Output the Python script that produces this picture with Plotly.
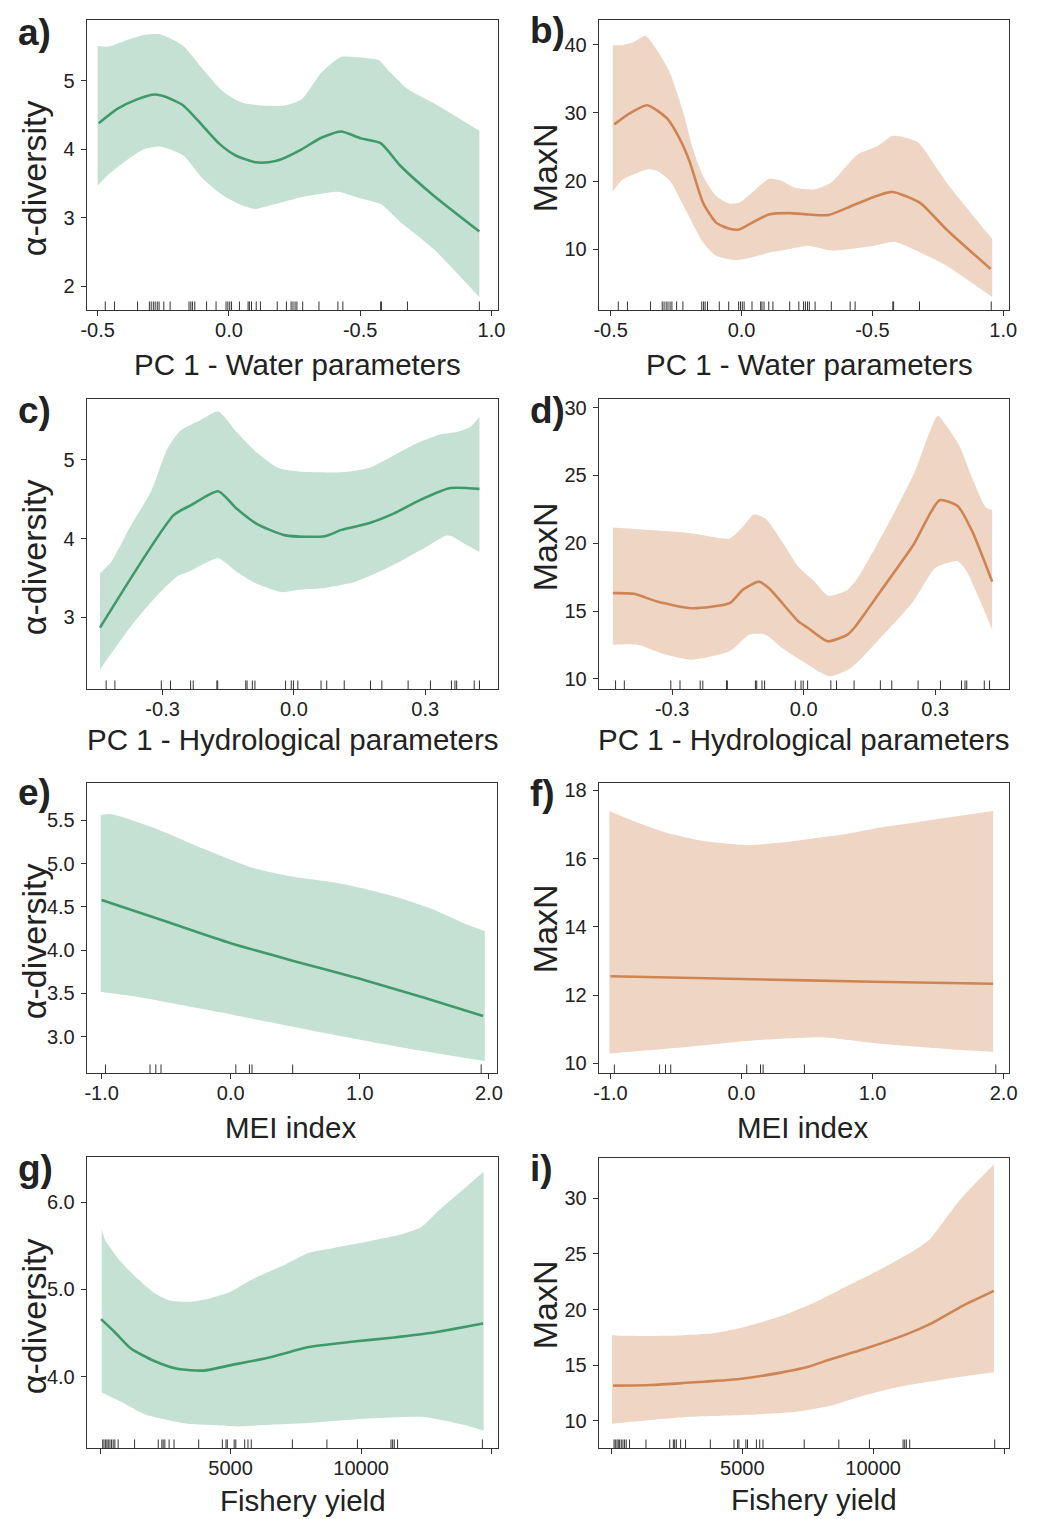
import plotly.graph_objects as go

W, H = 1038, 1519
FONT = "Liberation Sans, Arial, sans-serif"
GREEN_LINE = "#3e9a69"
GREEN_BAND = "#c5e1d3"
ORANGE_LINE = "#cf8553"
ORANGE_BAND = "#efd5c4"

# ---------------- data ----------------
# rug (observed covariate values)
rug_water = [-0.471, -0.436, -0.348, -0.303, -0.296, -0.288, -0.281, -0.273, -0.266, -0.248,
             -0.224, -0.152, -0.145, -0.139, -0.130, -0.085, -0.049, -0.011, -0.004, 0.003,
             0.010, 0.040, 0.073, 0.078, 0.086, 0.104, 0.120, 0.184, 0.219, 0.237, 0.244,
             0.252, 0.259, 0.281, 0.343, 0.415, 0.434, 0.578, 0.581, 0.680, 0.954]
rug_hydro = [-0.429, -0.409, -0.303, -0.282, -0.236, -0.230, -0.176, -0.174, -0.110, -0.107,
             -0.095, -0.089, -0.019, -0.006, -0.001, 0.009, 0.062, 0.075, 0.115, 0.175,
             0.201, 0.261, 0.312, 0.360, 0.368, 0.372, 0.412, 0.424]
rug_mei = [-0.97, -0.625, -0.58, -0.54, 0.04, 0.145, 0.165, 0.48, 1.94]
rug_fish = [101, 151, 214, 264, 315, 378, 441, 504, 567, 693, 1322, 2229, 2367, 2418, 2481,
            2645, 2834, 3778, 4684, 4823, 4873, 5137, 5200, 5540, 5666, 5792, 7366, 8688,
            9859, 11143, 11206, 11269, 11395, 14643]

# panel a: alpha-diversity ~ PC1 water
a_fit_x = [-0.496, -0.425, -0.35, -0.281, -0.237, -0.174, -0.099, -0.036, 0.026, 0.102, 0.152,
           0.202, 0.277, 0.352, 0.427, 0.503, 0.578, 0.653, 0.778, 0.954]
a_fit_y = [4.38, 4.59, 4.73, 4.80, 4.76, 4.64, 4.34, 4.08, 3.91, 3.81, 3.81, 3.86, 4.00, 4.17,
           4.26, 4.16, 4.09, 3.76, 3.33, 2.80]
a_up_x = [-0.5, -0.462, -0.4, -0.324, -0.262, -0.174, -0.099, -0.024, 0.051, 0.127, 0.214,
          0.277, 0.352, 0.427, 0.503, 0.571, 0.603, 0.678, 0.778, 0.954]
a_up_y = [5.51, 5.50, 5.58, 5.67, 5.68, 5.51, 5.17, 4.85, 4.68, 4.64, 4.64, 4.73, 5.12, 5.35,
          5.34, 5.30, 5.17, 4.89, 4.68, 4.27]
a_lo_x = [-0.5, -0.462, -0.4, -0.324, -0.262, -0.174, -0.099, -0.024, 0.051, 0.102, 0.177,
          0.277, 0.352, 0.415, 0.503, 0.578, 0.653, 0.778, 0.954]
a_lo_y = [3.47, 3.62, 3.81, 4.00, 4.04, 3.91, 3.57, 3.33, 3.18, 3.13, 3.20, 3.30, 3.35, 3.38,
          3.28, 3.20, 2.94, 2.55, 1.84]

# panel b: MaxN ~ PC1 water
b_fit_x = [-0.486, -0.436, -0.361, -0.285, -0.235, -0.197, -0.147, -0.097, -0.046, -0.009,
           0.041, 0.104, 0.180, 0.255, 0.330, 0.406, 0.481, 0.575, 0.682, 0.783, 0.952]
b_fit_y = [28.3, 29.7, 31.1, 29.2, 26.1, 22.7, 16.8, 13.9, 13.0, 12.9, 13.9, 15.1, 15.3, 15.1,
           15.0, 16.1, 17.3, 18.4, 16.8, 12.9, 7.1]
b_up_x = [-0.492, -0.455, -0.411, -0.367, -0.323, -0.273, -0.222, -0.185, -0.147, -0.097,
          -0.046, -0.009, 0.041, 0.104, 0.154, 0.204, 0.280, 0.343, 0.443, 0.519, 0.575, 0.632,
          0.676, 0.783, 0.958]
b_up_y = [39.9, 39.9, 40.4, 41.3, 39.2, 35.8, 30.0, 24.6, 20.7, 17.8, 16.7, 16.8, 18.3, 20.3,
          20.0, 19.0, 18.8, 19.8, 23.9, 25.1, 26.6, 26.3, 25.6, 19.8, 11.5]
b_lo_x = [-0.492, -0.455, -0.411, -0.361, -0.323, -0.273, -0.222, -0.147, -0.097, -0.021,
          0.029, 0.104, 0.180, 0.255, 0.343, 0.431, 0.506, 0.582, 0.657, 0.783, 0.958]
b_lo_y = [18.5, 20.2, 21.0, 21.7, 21.5, 20.0, 16.4, 11.0, 9.05, 8.4, 8.7, 9.5, 10.0, 10.5, 9.8,
          10.1, 10.5, 11.1, 10.0, 7.6, 3.0]

# panel c: alpha-diversity ~ PC1 hydrological
c_fit_x = [-0.443, -0.274, -0.236, -0.173, -0.131, -0.086, -0.019, 0.071, 0.109, 0.169, 0.229,
           0.289, 0.357, 0.424]
c_fit_y = [2.87, 4.30, 4.42, 4.60, 4.38, 4.19, 4.04, 4.03, 4.11, 4.19, 4.32, 4.49, 4.64, 4.63]
c_up_x = [-0.443, -0.417, -0.372, -0.327, -0.289, -0.259, -0.214, -0.173, -0.131, -0.083,
          -0.034, 0.011, 0.056, 0.109, 0.169, 0.214, 0.282, 0.334, 0.372, 0.402, 0.424]
c_up_y = [3.56, 3.71, 4.17, 4.59, 5.14, 5.37, 5.50, 5.61, 5.35, 5.08, 4.89, 4.85, 4.84, 4.84,
          4.89, 5.01, 5.21, 5.32, 5.35, 5.41, 5.54]
c_lo_x = [-0.443, -0.372, -0.319, -0.267, -0.236, -0.173, -0.131, -0.086, -0.026, 0.011, 0.064,
          0.139, 0.184, 0.236, 0.304, 0.349, 0.364, 0.394, 0.424]
c_lo_y = [2.34, 2.89, 3.24, 3.52, 3.59, 3.75, 3.58, 3.43, 3.32, 3.35, 3.37, 3.45, 3.55, 3.69,
          3.90, 4.04, 4.02, 3.92, 3.83]

# panel d: MaxN ~ PC1 hydrological
d_fit_x = [-0.435, -0.387, -0.334, -0.255, -0.169, -0.139, -0.102, -0.079, -0.012, 0.010, 0.055,
           0.100, 0.115, 0.175, 0.250, 0.310, 0.351, 0.385, 0.430]
d_fit_y = [16.32, 16.27, 15.70, 15.21, 15.58, 16.56, 17.17, 16.68, 14.24, 13.75, 12.77, 13.26,
           13.75, 16.44, 19.87, 23.17, 22.75, 20.84, 17.17]
d_up_x = [-0.435, -0.349, -0.252, -0.169, -0.139, -0.113, -0.087, -0.049, -0.012, 0.025, 0.055,
          0.070, 0.100, 0.123, 0.175, 0.250, 0.306, 0.325, 0.355, 0.385, 0.415, 0.430]
d_up_y = [21.16, 20.97, 20.72, 20.35, 21.21, 22.12, 21.82, 20.11, 18.27, 17.17, 16.14, 16.19,
          16.56, 17.42, 20.35, 25.01, 29.41, 28.68, 27.21, 24.76, 22.68, 22.44]
d_lo_x = [-0.435, -0.379, -0.319, -0.255, -0.169, -0.124, -0.087, -0.049, 0.010, 0.059, 0.108,
          0.175, 0.250, 0.299, 0.325, 0.351, 0.370, 0.400, 0.430]
d_lo_y = [12.52, 12.52, 11.84, 11.42, 12.03, 13.26, 13.26, 12.28, 11.05, 10.20, 10.81, 13.01,
          15.70, 18.15, 18.52, 18.69, 18.03, 15.95, 13.62]

# panel e: alpha-diversity ~ MEI
e_fit_x = [-1.0, -0.5, 0.0, 0.5, 1.0, 1.5, 1.955]
e_fit_y = [4.58, 4.33, 4.08, 3.87, 3.67, 3.45, 3.24]
e_up_x = [-1.007, -0.923, -0.592, -0.211, 0.170, 0.475, 0.806, 1.060, 1.315, 1.569, 1.823, 1.968]
e_up_y = [5.56, 5.57, 5.41, 5.17, 4.95, 4.85, 4.78, 4.70, 4.60, 4.47, 4.30, 4.22]
e_lo_x = [-1.007, -0.720, -0.211, 0.297, 0.806, 1.315, 1.968]
e_lo_y = [3.52, 3.46, 3.32, 3.17, 3.02, 2.88, 2.72]

# panel f: MaxN ~ MEI
f_fit_x = [-1.0, 0.0, 1.0, 1.92]
f_fit_y = [12.55, 12.47, 12.39, 12.33]
f_up_x = [-1.008, -0.82, -0.569, -0.293, 0.058, 0.308, 0.559, 0.81, 1.06, 1.31, 1.56, 1.92]
f_up_y = [17.40, 17.10, 16.76, 16.52, 16.40, 16.47, 16.60, 16.73, 16.91, 17.05, 17.20, 17.40]
f_lo_x = [-1.008, -0.444, 0.058, 0.559, 0.684, 1.06, 1.56, 1.92]
f_lo_y = [10.29, 10.47, 10.66, 10.76, 10.74, 10.57, 10.42, 10.34]

# panel g: alpha-diversity ~ fishery yield
g_fit_x = [38, 567, 1196, 2078, 2959, 3966, 4973, 6484, 7995, 9631, 11269, 12653, 13409, 14668]
g_fit_y = [4.66, 4.51, 4.32, 4.18, 4.09, 4.07, 4.13, 4.22, 4.34, 4.40, 4.45, 4.50, 4.54, 4.61]
g_up_x = [63, 189, 819, 1448, 2078, 2707, 3462, 4218, 4973, 5855, 7114, 7995, 9002, 10261,
          11520, 12275, 13030, 14037, 14692]
g_up_y = [5.69, 5.57, 5.31, 5.12, 4.96, 4.87, 4.86, 4.90, 4.97, 5.12, 5.29, 5.42, 5.48, 5.55,
          5.63, 5.71, 5.92, 6.18, 6.35]
g_lo_x = [63, 819, 1700, 2329, 3336, 4596, 5225, 6484, 7995, 10261, 12275, 12779, 14037, 14692]
g_lo_y = [3.82, 3.71, 3.57, 3.52, 3.46, 3.44, 3.43, 3.45, 3.47, 3.52, 3.54, 3.52, 3.44, 3.38]

# panel i: MaxN ~ fishery yield
i_fit_x = [63, 1505, 2759, 4891, 6521, 7524, 8402, 9656, 11287, 12165, 13419, 14611]
i_fit_y = [13.14, 13.20, 13.38, 13.74, 14.34, 14.85, 15.54, 16.44, 17.78, 18.68, 20.33, 21.68]
i_up_x = [25, 502, 2132, 3888, 5017, 6521, 7775, 9029, 10283, 11537, 12165, 12792, 13419, 14611]
i_up_y = [17.69, 17.63, 17.63, 17.87, 18.38, 19.43, 20.63, 22.13, 23.62, 25.27, 26.32, 28.26,
          30.15, 33.05]
i_lo_x = [25, 878, 2759, 5267, 7148, 8402, 9656, 10910, 12792, 14611]
i_lo_y = [9.70, 9.91, 10.30, 10.51, 10.81, 11.35, 12.25, 13.0, 13.74, 14.34]

# tick labels
water_ticks = [-0.5, 0.0, 0.5, 1.0]
water_ticktext = ["-0.5", "0.0", "-0.5", "1.0"]
hydro_ticks = [-0.3, 0.0, 0.3]
hydro_ticktext = ["-0.3", "0.0", "0.3"]
mei_ticks = [-1.0, 0.0, 1.0, 2.0]
mei_ticktext = ["-1.0", "0.0", "1.0", "2.0"]
fish_ticks = [0, 5000, 10000, 15000]
fish_ticktext = ["", "5000", "10000", ""]

# ---------------- panels ----------------
panels = [
    dict(letter="a)", fx=a_fit_x, fy=a_fit_y, ux=a_up_x, uy=a_up_y, lx=a_lo_x, ly=a_lo_y,
         lc=GREEN_LINE, bc=GREEN_BAND, rug=rug_water, xt=water_ticks, xtt=water_ticktext,
         yt=[2, 3, 4, 5], ytt=["2", "3", "4", "5"], xtitle="PC 1 - Water parameters",
         ytitle="α-diversity", box=(82, 499, 17, 308), xr=(-0.541, 1.026), yr=(1.65, 5.89),
         xtpos=(295, 362), ytpos=(28, 176), lpos=(10, 30)),
    dict(letter="b)", fx=b_fit_x, fy=b_fit_y, ux=b_up_x, uy=b_up_y, lx=b_lo_x, ly=b_lo_y,
         lc=ORANGE_LINE, bc=ORANGE_BAND, rug=rug_water, xt=water_ticks, xtt=water_ticktext,
         yt=[10, 20, 30, 40], ytt=["10", "20", "30", "40"], xtitle="PC 1 - Water parameters",
         ytitle="MaxN", box=(601, 1017, 17, 308), xr=(-0.545, 1.023), yr=(1.07, 43.6),
         xtpos=(814, 362), ytpos=(546, 165), lpos=(529, 28)),
    dict(letter="c)", fx=c_fit_x, fy=c_fit_y, ux=c_up_x, uy=c_up_y, lx=c_lo_x, ly=c_lo_y,
         lc=GREEN_LINE, bc=GREEN_BAND, rug=rug_hydro, xt=hydro_ticks, xtt=hydro_ticktext,
         yt=[3, 4, 5], ytt=["3", "4", "5"], xtitle="PC 1 - Hydrological parameters",
         ytitle="α-diversity", box=(82, 499, 397, 688), xr=(-0.473, 0.467), yr=(2.09, 5.77),
         xtpos=(291, 738), ytpos=(28, 556), lpos=(10, 409)),
    dict(letter="d)", fx=d_fit_x, fy=d_fit_y, ux=d_up_x, uy=d_up_y, lx=d_lo_x, ly=d_lo_y,
         lc=ORANGE_LINE, bc=ORANGE_BAND, rug=rug_hydro, xt=hydro_ticks, xtt=hydro_ticktext,
         yt=[10, 15, 20, 25, 30], ytt=["10", "15", "20", "25", "30"],
         xtitle="PC 1 - Hydrological parameters", ytitle="MaxN", box=(601, 1017, 397, 688),
         xr=(-0.467, 0.469), yr=(9.24, 30.64), xtpos=(809, 738), ytpos=(546, 545),
         lpos=(529, 409)),
    dict(letter="e)", fx=e_fit_x, fy=e_fit_y, ux=e_up_x, uy=e_up_y, lx=e_lo_x, ly=e_lo_y,
         lc=GREEN_LINE, bc=GREEN_BAND, rug=rug_mei, xt=mei_ticks, xtt=mei_ticktext,
         yt=[3.0, 3.5, 4.0, 4.5, 5.0, 5.5], ytt=["3.0", "3.5", "4.0", "4.5", "5.0", "5.5"],
         xtitle="MEI index", ytitle="α-diversity", box=(82, 498, 782, 1073),
         xr=(-1.114, 2.065), yr=(2.58, 5.93), xtpos=(288, 1127), ytpos=(28, 941),
         lpos=(10, 792)),
    dict(letter="f)", fx=f_fit_x, fy=f_fit_y, ux=f_up_x, uy=f_up_y, lx=f_lo_x, ly=f_lo_y,
         lc=ORANGE_LINE, bc=ORANGE_BAND, rug=rug_mei, xt=mei_ticks, xtt=mei_ticktext,
         yt=[10, 12, 14, 16, 18], ytt=["10", "12", "14", "16", "18"], xtitle="MEI index",
         ytitle="MaxN", box=(601, 1017, 782, 1073), xr=(-1.088, 2.043), yr=(9.71, 18.22),
         xtpos=(807, 1127), ytpos=(546, 928), lpos=(529, 793)),
    dict(letter="g)", fx=g_fit_x, fy=g_fit_y, ux=g_up_x, uy=g_up_y, lx=g_lo_x, ly=g_lo_y,
         lc=GREEN_LINE, bc=GREEN_BAND, rug=rug_fish, xt=fish_ticks, xtt=fish_ticktext,
         yt=[4.0, 5.0, 6.0], ytt=["4.0", "5.0", "6.0"], xtitle="Fishery yield",
         ytitle="α-diversity", box=(82, 499, 1157, 1449), xr=(-504, 15252), yr=(3.18, 6.52),
         xtpos=(301, 1501), ytpos=(28, 1317), lpos=(10, 1169)),
    dict(letter="i)", fx=i_fit_x, fy=i_fit_y, ux=i_up_x, uy=i_up_y, lx=i_lo_x, ly=i_lo_y,
         lc=ORANGE_LINE, bc=ORANGE_BAND, rug=rug_fish, xt=fish_ticks, xtt=fish_ticktext,
         yt=[10, 15, 20, 25, 30], ytt=["10", "15", "20", "25", "30"], xtitle="Fishery yield",
         ytitle="MaxN", box=(601, 1017, 1158, 1449), xr=(-477, 15200), yr=(7.51, 33.65),
         xtpos=(819, 1500), ytpos=(546, 1305), lpos=(529, 1169)),
]


def px_x(v):
    return v / W


def px_y(v):
    return 1 - v / H


fig = go.Figure()
layout = dict(width=W, height=H, margin=dict(l=0, r=0, t=0, b=0), paper_bgcolor="white",
              plot_bgcolor="white", showlegend=False, font=dict(family=FONT, color="#222"))
shapes = []
annotations = []

for k, p in enumerate(panels):
    n = "" if k == 0 else str(k + 1)
    xa, ya = "x" + n, "y" + n
    # confidence band: lower path, then upper path filled down to it
    fig.add_trace(go.Scatter(x=p["lx"], y=p["ly"], mode="lines", xaxis=xa, yaxis=ya,
                             line=dict(width=0, color=p["bc"], shape="spline", smoothing=0.6),
                             hoverinfo="skip"))
    fig.add_trace(go.Scatter(x=p["ux"], y=p["uy"], mode="lines", xaxis=xa, yaxis=ya,
                             fill="tonexty", fillcolor=p["bc"],
                             line=dict(width=0, color=p["bc"], shape="spline", smoothing=0.6),
                             hoverinfo="skip"))
    fig.add_trace(go.Scatter(x=p["fx"], y=p["fy"], mode="lines", xaxis=xa, yaxis=ya,
                             line=dict(width=2.6, color=p["lc"], shape="spline", smoothing=0.6)))
    x0, x1, y0, y1 = p["box"]
    axis_common = dict(showline=True, mirror=True, linecolor="#333", linewidth=1.4,
                       ticks="outside", ticklen=5, tickwidth=1, tickcolor="#333",
                       showgrid=False, zeroline=False, tickmode="array",
                       tickfont=dict(family=FONT, size=20, color="#222"), fixedrange=True)
    layout["xaxis" + n] = dict(axis_common, domain=[px_x(x0), px_x(x1)], range=list(p["xr"]),
                               anchor=ya, tickvals=p["xt"], ticktext=p["xtt"],
                               ticklabelstandoff=-3)
    layout["yaxis" + n] = dict(axis_common, domain=[px_y(y1), px_y(y0)], range=list(p["yr"]),
                               anchor=xa, tickvals=p["yt"], ticktext=p["ytt"],
                               ticklabelstandoff=2)
    for v in p["rug"]:
        shapes.append(dict(type="line", xref=xa, yref=ya + " domain", x0=v, x1=v, y0=0,
                           y1=0.03, line=dict(color="#333", width=1)))
    annotations.append(dict(text=p["xtitle"], xref="paper", yref="paper",
                            x=px_x(p["xtpos"][0]), y=px_y(p["xtpos"][1]), xanchor="center",
                            yanchor="middle", showarrow=False,
                            font=dict(family=FONT, size=29.5, color="#222")))
    annotations.append(dict(text=p["ytitle"], xref="paper", yref="paper",
                            x=px_x(p["ytpos"][0]), y=px_y(p["ytpos"][1]), xanchor="center",
                            yanchor="middle", textangle=-90, showarrow=False,
                            font=dict(family=FONT, size=34, color="#222")))
    annotations.append(dict(text="<b>" + p["letter"] + "</b>", xref="paper", yref="paper",
                            x=px_x(p["lpos"][0]), y=px_y(p["lpos"][1]), xanchor="left",
                            yanchor="middle", showarrow=False,
                            font=dict(family=FONT, size=37, color="#222")))

layout["shapes"] = shapes
layout["annotations"] = annotations
fig.update_layout(**layout)
fig.write_html("out.html")
